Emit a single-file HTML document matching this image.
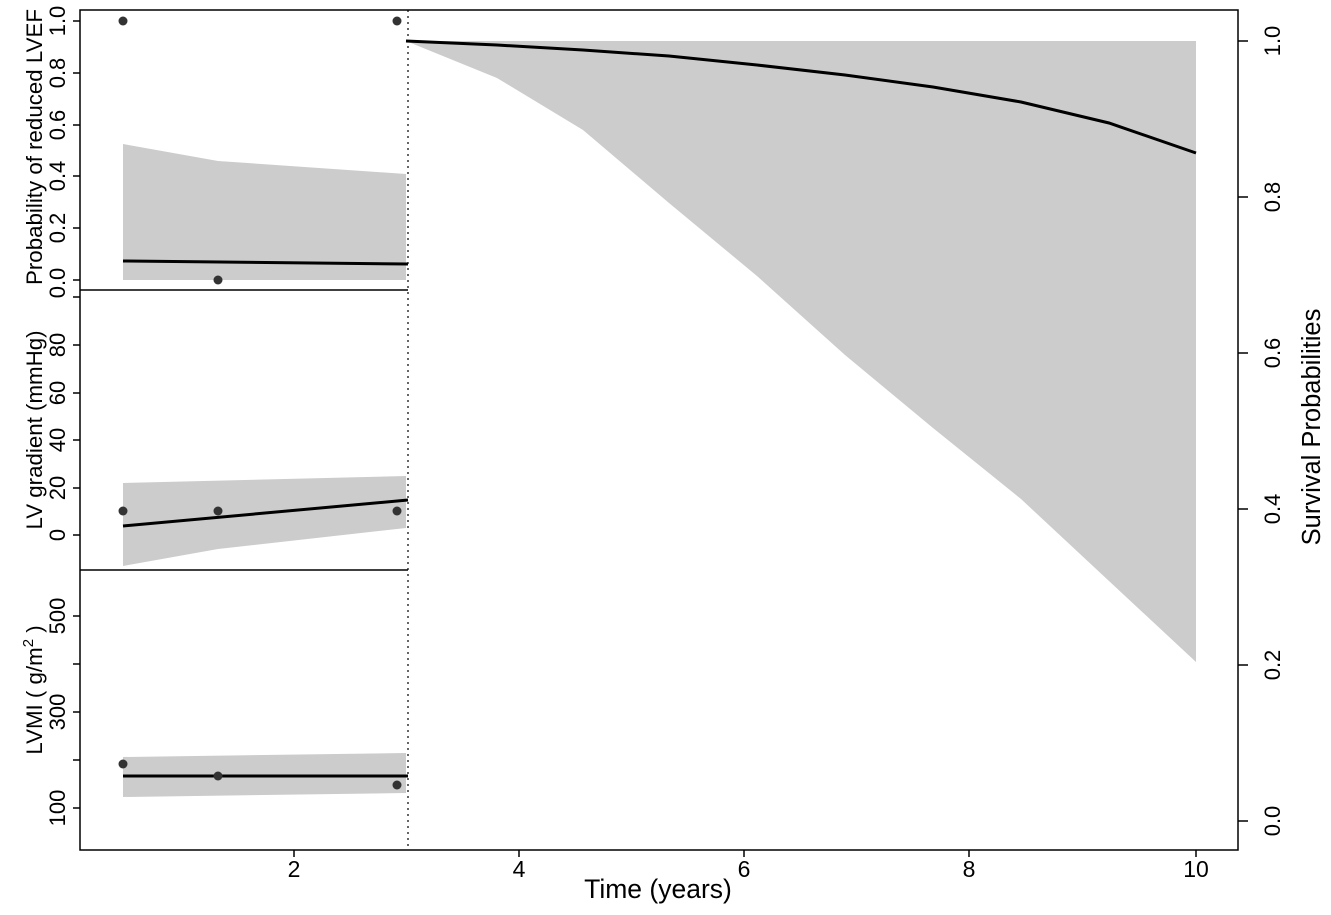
<!DOCTYPE html>
<html><head><style>body{margin:0;background:#fff}</style></head><body>
<svg width="1331" height="910" xmlns="http://www.w3.org/2000/svg" font-family="Liberation Sans, sans-serif" font-size="22">
<rect width="1331" height="910" fill="#fff"/>
<polygon points="406,41 1196,41 1196,662 1109,581 1021,499 933,428 845,355 757,276 669,203 583,130 497,78 406,41" fill="#cccccc"/>
<polyline points="406,41 497,45 583,50 669,56 757,65 845,75 933,87 1021,102 1109,123 1196,153" fill="none" stroke="#000" stroke-width="3"/>
<polygon points="123,144 218,161 406,174 406,280 123,280" fill="#cccccc"/>
<line x1="123" y1="261" x2="408" y2="264" stroke="#000" stroke-width="3"/>
<g fill="#333"><circle cx="123" cy="21" r="4.5"/><circle cx="218" cy="280" r="4.5"/><circle cx="397" cy="21" r="4.5"/></g>
<polygon points="123,483 406,476 406,528 218,549 123,566" fill="#cccccc"/>
<line x1="123" y1="526" x2="408" y2="500" stroke="#000" stroke-width="3"/>
<g fill="#333"><circle cx="123" cy="511" r="4.5"/><circle cx="218" cy="511" r="4.5"/><circle cx="397" cy="511" r="4.5"/></g>
<polygon points="123,757 406,753 406,793 123,797" fill="#cccccc"/>
<line x1="123" y1="776" x2="408" y2="776" stroke="#000" stroke-width="3"/>
<g fill="#333"><circle cx="123" cy="764" r="4.5"/><circle cx="218" cy="776" r="4.5"/><circle cx="397" cy="785" r="4.5"/></g>
<rect x="80" y="10" width="1158" height="840" fill="none" stroke="#000" stroke-width="1.5"/>
<line x1="80" y1="290" x2="408" y2="290" stroke="#000" stroke-width="1.5"/>
<line x1="80" y1="570" x2="408" y2="570" stroke="#000" stroke-width="1.5"/>
<line x1="408" y1="10" x2="408" y2="850" stroke="#000" stroke-dasharray="2,4" stroke-width="1.2"/>
<g stroke="#000" stroke-width="1.5">
<line x1="73" y1="21" x2="80" y2="21"/><line x1="73" y1="73" x2="80" y2="73"/><line x1="73" y1="125" x2="80" y2="125"/><line x1="73" y1="176" x2="80" y2="176"/><line x1="73" y1="228" x2="80" y2="228"/><line x1="73" y1="280" x2="80" y2="280"/>
<line x1="73" y1="535" x2="80" y2="535"/><line x1="73" y1="488" x2="80" y2="488"/><line x1="73" y1="440" x2="80" y2="440"/><line x1="73" y1="393" x2="80" y2="393"/><line x1="73" y1="345" x2="80" y2="345"/><line x1="73" y1="297" x2="80" y2="297"/>
<line x1="73" y1="616" x2="80" y2="616"/><line x1="73" y1="664" x2="80" y2="664"/><line x1="73" y1="712" x2="80" y2="712"/><line x1="73" y1="760" x2="80" y2="760"/><line x1="73" y1="808" x2="80" y2="808"/>
<line x1="294" y1="850" x2="294" y2="857"/><line x1="519" y1="850" x2="519" y2="857"/><line x1="744" y1="850" x2="744" y2="857"/><line x1="969" y1="850" x2="969" y2="857"/><line x1="1196" y1="850" x2="1196" y2="857"/>
<line x1="1238" y1="41" x2="1248" y2="41"/><line x1="1238" y1="197" x2="1248" y2="197"/><line x1="1238" y1="353" x2="1248" y2="353"/><line x1="1238" y1="509" x2="1248" y2="509"/><line x1="1238" y1="665" x2="1248" y2="665"/><line x1="1238" y1="821" x2="1248" y2="821"/>
</g>
<g text-anchor="middle">
<g transform="translate(65,0)">
<text transform="translate(0,21) rotate(-90)">1.0</text><text transform="translate(0,73) rotate(-90)">0.8</text><text transform="translate(0,125) rotate(-90)">0.6</text><text transform="translate(0,176) rotate(-90)">0.4</text><text transform="translate(0,228) rotate(-90)">0.2</text><text transform="translate(0,283) rotate(-90)">0.0</text>
<text transform="translate(0,535) rotate(-90)">0</text><text transform="translate(0,488) rotate(-90)">20</text><text transform="translate(0,440) rotate(-90)">40</text><text transform="translate(0,393) rotate(-90)">60</text><text transform="translate(0,345) rotate(-90)">80</text>
<text transform="translate(0,616) rotate(-90)">500</text><text transform="translate(0,712) rotate(-90)">300</text><text transform="translate(0,808) rotate(-90)">100</text>
</g>
<g font-size="22.3">
<text transform="translate(42,147) rotate(-90)">Probability of reduced LVEF</text>
<text transform="translate(42,430) rotate(-90)">LV gradient (mmHg)</text>
<text transform="translate(42,690) rotate(-90)">LVMI ( g/m<tspan font-size="15" dy="-9">2</tspan><tspan dy="9"> )</tspan></text>
</g>
<g font-size="23">
<text x="294" y="877">2</text><text x="519" y="877">4</text><text x="744" y="877">6</text><text x="969" y="877">8</text><text x="1196" y="877">10</text>
</g>
<text x="658" y="898" font-size="26.5">Time (years)</text>
<g transform="translate(1280,0)">
<text transform="translate(0,41) rotate(-90)">1.0</text><text transform="translate(0,197) rotate(-90)">0.8</text><text transform="translate(0,353) rotate(-90)">0.6</text><text transform="translate(0,509) rotate(-90)">0.4</text><text transform="translate(0,665) rotate(-90)">0.2</text><text transform="translate(0,821) rotate(-90)">0.0</text>
</g>
<text transform="translate(1320,427) rotate(-90)" font-size="25.5">Survival Probabilities</text>
</g>
</svg>
</body></html>
